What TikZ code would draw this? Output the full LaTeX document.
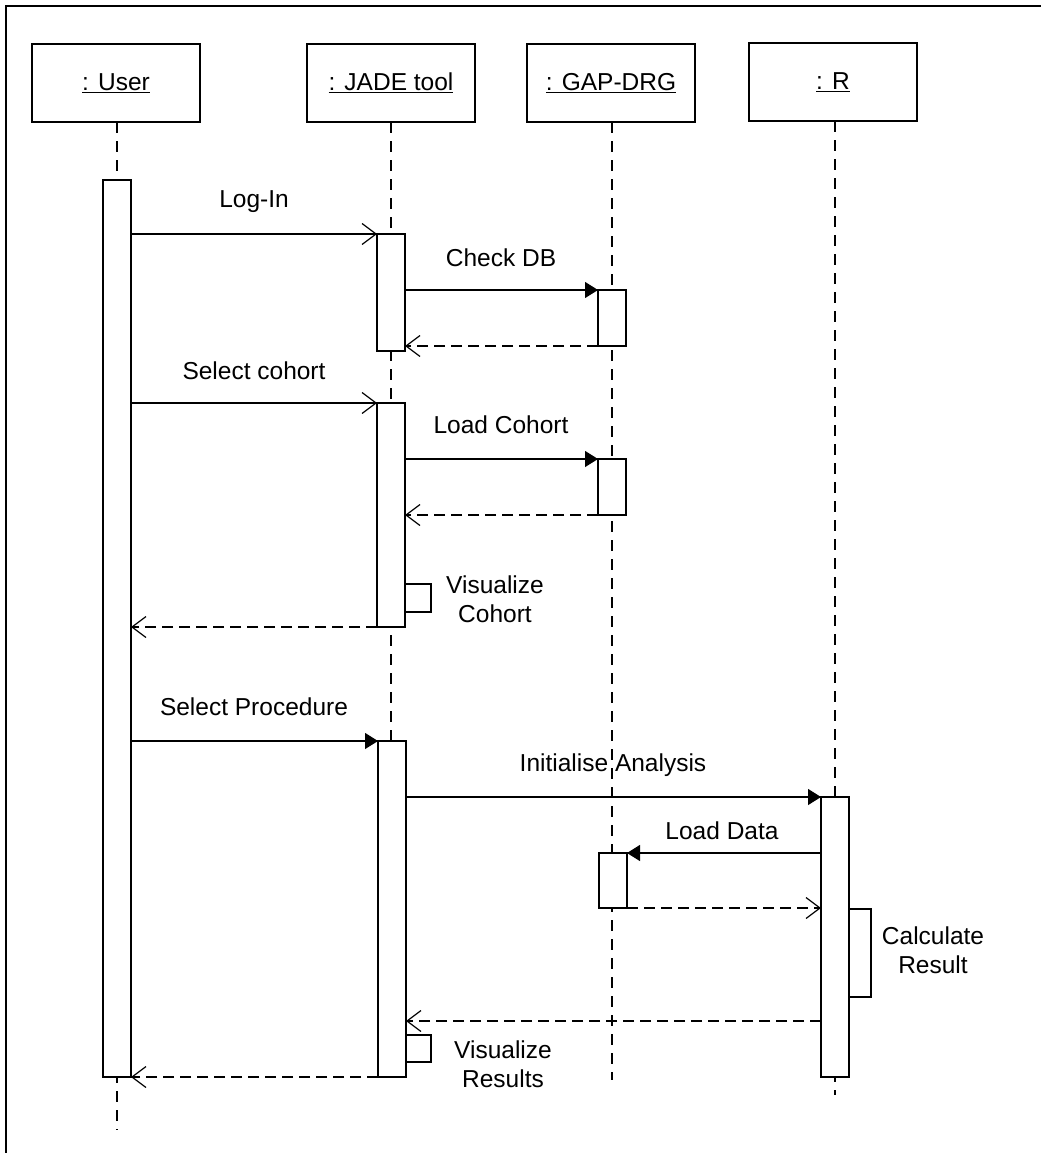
\documentclass[tikz,border=0pt]{standalone}
\usepackage{fontspec}
\setmainfont{Liberation Sans}
\usetikzlibrary{arrows.meta}
\begin{document}
\begin{tikzpicture}[x=1pt,y=-1pt,line width=1.2pt,
  every node/.style={font=\fontsize{24.5}{29.5}\selectfont},
  head/.style={draw,rectangle,minimum width=168pt,minimum height=78pt,inner sep=0pt,outer sep=0pt,fill=white},
  act/.style={draw,rectangle,minimum width=28pt,inner sep=0pt,outer sep=0pt,fill=white},
  life/.style={dash pattern=on 11pt off 8pt},
  call/.style={-{Triangle[length=13pt,width=16pt]}},
  callo/.style={-{Straight Barb[length=14pt,width=21pt,line width=1.2pt]}},
  ret/.style={dash pattern=on 11pt off 6pt,-{Straight Barb[length=14pt,width=21pt,line width=1.2pt]}},
  lbl/.style={inner sep=0pt,align=center}]
\useasboundingbox (0,0) rectangle (1041,1153);
\draw (6,1153) -- (6,6) -- (1041,6);

% headers
\node[head] (hu) at (116,83) {\underline{: User}};
\node[head] (hj) at (391,83) {\underline{: JADE tool}};
\node[head] (hg) at (611,83) {\underline{: GAP-DRG}};
\node[head] (hr) at (833,82) {\underline{: R}};

% lifeline ends
\coordinate (eu) at (117,1130);
\coordinate (ej) at (391,1077);
\coordinate (eg) at (612,1080);
\coordinate (er) at (835,1095);
\draw[life] (hu.south -| eu) -- (eu);
\draw[life] (hj.south -| ej) -- (ej);
\draw[life] (hg.south -| eg) -- (eg);
\draw[life] (hr.south -| er) -- (er);

% activations
\node[act,minimum height=897pt] (au) at (117,628.5) {};
\node[act,minimum height=117pt] (aj1) at (391,292.5) {};
\node[act,minimum height=56pt] (ag1) at (612,318) {};
\node[act,minimum height=224pt] (aj2) at (391,515) {};
\node[act,minimum height=56pt] (ag2) at (612,487) {};
\node[act,minimum height=336pt] (aj3) at (392,909) {};
\node[act,minimum height=280pt] (ar) at (835,937) {};
\node[act,minimum height=55pt] (ag3) at (613,880.5) {};

% self calls
\draw (aj2.east |- 0,584) coordinate (s1) -- ++(26,0) -- ++(0,28) -- ++(-26,0);
\draw (ar.east |- 0,909) coordinate (s2) -- ++(22,0) -- ++(0,88) -- ++(-22,0);
\draw (aj3.east |- 0,1035) coordinate (s3) -- ++(25,0) -- ++(0,27) -- ++(-25,0);

% messages
\draw[callo] (au.east |- aj1.north) -- (aj1.north west);
\draw[call] (aj1.east |- ag1.north) -- (ag1.north west);
\draw[ret] (ag1.south west) -- (aj1.east |- ag1.south west);
\draw[callo] (au.east |- aj2.north) -- (aj2.north west);
\draw[call] (aj2.east |- ag2.north) -- (ag2.north west);
\draw[ret] (ag2.south west) -- (aj2.east |- ag2.south west);
\draw[ret] (aj2.south west) -- (au.east |- aj2.south west);
\draw[call] (au.east |- aj3.north) -- (aj3.north west);
\draw[call] (aj3.east |- ar.north) -- (ar.north west);
\draw[call] (ar.west |- ag3.north) -- (ag3.north east);
\draw[ret] (ag3.south east) -- (ar.west |- ag3.south east);
\coordinate (r4) at (ar.west |- 0,1021);
\draw[ret] (r4) -- (aj3.east |- r4);
\draw[ret] (aj3.south west) -- (au.east |- aj3.south west);

% labels
\node[lbl] (l1) at (254,202) {Log-In};
\node[lbl] (l2) at (501,258) {Check DB};
\node[lbl] (l3) at (254,371) {Select cohort};
\node[lbl] (l4) at (501,425) {Load Cohort};
\node[lbl] (l5) at (495,599) {Visualize\\Cohort};
\node[lbl] (l6) at (254,707) {Select Procedure};
\node[lbl] (l7) at (613,765) {Initialise Analysis};
\node[lbl] (l8) at (722,831) {Load Data};
\node[lbl] (l9) at (933,950) {Calculate\\Result};
\node[lbl] (l10) at (503,1064) {Visualize\\Results};
\end{tikzpicture}
\end{document}
